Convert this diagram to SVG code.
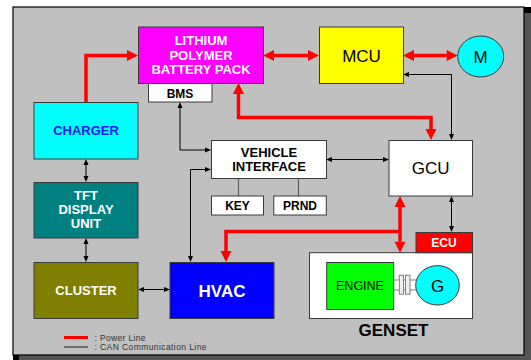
<svg xmlns="http://www.w3.org/2000/svg" width="531" height="360" viewBox="0 0 531 360">
<defs>
<style>
.box{stroke:#3a3a3a;stroke-width:1}
.t{font-family:"Liberation Sans",Arial,sans-serif;text-anchor:middle}
.b{font-weight:bold}
.pw{fill:none;stroke:#FF0000;stroke-width:3.5;marker-start:url(#ra);marker-end:url(#ra)}
.pw1{fill:none;stroke:#FF0000;stroke-width:3.5;marker-end:url(#ra)}
.can{fill:none;stroke:#000;stroke-width:1;marker-start:url(#ba);marker-end:url(#ba)}
.link{fill:none;stroke:#606060;stroke-width:1.2}
</style>
<marker id="ra" markerUnits="userSpaceOnUse" markerWidth="12" markerHeight="11" refX="0" refY="5.5" orient="auto-start-reverse" overflow="visible">
<path d="M0,0 L11,5.5 L0,11 z" fill="#FF0000"/>
</marker>
<marker id="ba" markerUnits="userSpaceOnUse" markerWidth="7" markerHeight="6" refX="0" refY="2.5" orient="auto-start-reverse" overflow="visible">
<path d="M0,0 L6,2.5 L0,5 z" fill="#000"/>
</marker>
</defs>

<g id="frame">
<rect x="19" y="13" width="512" height="348" fill="#555555"/>
<rect x="524" y="7" width="7" height="6" fill="#000"/>
<rect x="13" y="355" width="6" height="5" fill="#000"/>
<rect x="13" y="7" width="511" height="348" fill="#C0C0C0" stroke="#000" stroke-width="1.2"/>
</g>

<g id="connectors">
<path class="pw1" d="M86,102 V55.5 H127"/>
<path class="pw" d="M274,55.5 H308"/>
<path class="pw" d="M414,55.5 H446.7"/>
<path class="pw" d="M238.5,94 V117.5 H431 V129"/>
<path class="pw" d="M400,207 V241.7"/>
<path class="pw1" d="M400,231.5 H226 V251"/>
<path class="can" d="M180,108 V150 H205"/>
<path class="can" d="M190.5,256 V169.5 H205"/>
<path class="can" d="M332,159.5 H383"/>
<path class="can" d="M409,74.5 H451.5 V134"/>
<path class="can" d="M86,165 V176"/>
<path class="can" d="M86,244 V256"/>
<path class="can" d="M144,289.5 H164"/>
<path class="can" d="M451.5,202 V226"/>
<path class="link" d="M238.5,178.5 V196 M298.5,178.5 V196"/>
</g>

<g id="battery">
<rect class="box" x="138.5" y="27" width="125" height="56.5" fill="#FF00FF"/>
<text class="t b" x="201" y="45" font-size="13" fill="#fff">LITHIUM</text>
<text class="t b" x="201" y="59.5" font-size="13" fill="#fff">POLYMER</text>
<text class="t b" x="201" y="74" font-size="13" fill="#fff">BATTERY PACK</text>
</g>

<g id="bms">
<rect class="box" x="148.5" y="83.5" width="63.5" height="18.5" fill="#fff"/>
<text class="t b" x="180" y="97.5" font-size="12" fill="#000">BMS</text>
</g>

<g id="mcu">
<rect class="box" x="319.5" y="27" width="84" height="56.5" fill="#FFFF00"/>
<text class="t" x="361.5" y="61.5" font-size="17" fill="#000">MCU</text>
</g>

<g id="motor">
<ellipse class="box" cx="480.7" cy="56.5" rx="23" ry="20.5" fill="#00FFFF"/>
<text class="t" x="480.7" y="62.5" font-size="17" fill="#000">M</text>
</g>

<g id="charger">
<rect class="box" x="34" y="102.5" width="104" height="56.5" fill="#00FFFF"/>
<text class="t b" x="86" y="135" font-size="13" fill="#1818E8">CHARGER</text>
</g>

<g id="vehicle-interface">
<rect class="box" x="211.5" y="140.5" width="115" height="38" fill="#fff"/>
<text class="t b" x="269" y="156.5" font-size="13" fill="#000">VEHICLE</text>
<text class="t b" x="269" y="170.5" font-size="13" fill="#000">INTERFACE</text>
</g>

<g id="key">
<rect class="box" x="211.5" y="196" width="52" height="19" fill="#fff"/>
<text class="t b" x="237.5" y="210" font-size="12" fill="#000">KEY</text>
</g>

<g id="prnd">
<rect class="box" x="273.8" y="196" width="52.5" height="19" fill="#fff"/>
<text class="t b" x="300" y="210" font-size="12" fill="#000">PRND</text>
</g>

<g id="gcu">
<rect class="box" x="389" y="140.5" width="83.5" height="55.5" fill="#fff"/>
<text class="t" x="430.7" y="174" font-size="17" fill="#000">GCU</text>
</g>

<g id="tft">
<rect class="box" x="34" y="182.5" width="104" height="55.5" fill="#008080"/>
<text class="t b" x="86" y="199.5" font-size="13" fill="#fff">TFT</text>
<text class="t b" x="86" y="213.5" font-size="13" fill="#fff">DISPLAY</text>
<text class="t b" x="86" y="227.5" font-size="13" fill="#fff">UNIT</text>
</g>

<g id="cluster">
<rect class="box" x="34" y="262.5" width="104" height="56" fill="#808000"/>
<text class="t b" x="86" y="294.5" font-size="13" fill="#fff">CLUSTER</text>
</g>

<g id="hvac">
<rect class="box" x="170" y="262.5" width="104" height="56" fill="#0000FF"/>
<text class="t b" x="222" y="296.5" font-size="17" fill="#fff">HVAC</text>
</g>

<g id="genset">
<rect class="box" x="309.5" y="252.7" width="163" height="65.8" fill="#fff"/>
<text class="t b" x="393.5" y="336" font-size="17" fill="#000">GENSET</text>
</g>

<g id="ecu">
<rect class="box" x="416" y="232.5" width="56.5" height="20.2" fill="#FF0000"/>
<text class="t b" x="444" y="247" font-size="12" fill="#fff">ECU</text>
</g>

<g id="engine">
<rect class="box" x="326.7" y="262.5" width="67" height="47" fill="#00FF00"/>
<text class="t" x="360" y="289.5" font-size="12.5" fill="#000">ENGINE</text>
</g>

<g id="coupling">
<path d="M393.7,280 H416 M393.7,290 H416" stroke="#808080" stroke-width="1" fill="none"/>
<rect x="399.3" y="275.2" width="4.2" height="19" fill="#f0f0f0" stroke="#808080" stroke-width="1"/>
<rect x="405.5" y="275.2" width="4.5" height="19" fill="#f0f0f0" stroke="#808080" stroke-width="1"/>
</g>

<g id="generator">
<ellipse class="box" cx="437.5" cy="285.3" rx="21.8" ry="19.7" fill="#00FFFF"/>
<text class="t" x="437.5" y="291.5" font-size="17" fill="#000">G</text>
</g>

<g id="legend">
<line x1="64" y1="337.5" x2="88" y2="337.5" stroke="#FF0000" stroke-width="3"/>
<line x1="64" y1="347" x2="88" y2="347" stroke="#333" stroke-width="1.2"/>
<text x="94.5" y="340.5" font-family="Liberation Sans, Arial, sans-serif" font-size="8.5" fill="#333" textLength="51" lengthAdjust="spacing">: Power Line</text>
<text x="94.5" y="350" font-family="Liberation Sans, Arial, sans-serif" font-size="8.5" fill="#333" textLength="112" lengthAdjust="spacing">: CAN Communication Line</text>
</g>
</svg>
